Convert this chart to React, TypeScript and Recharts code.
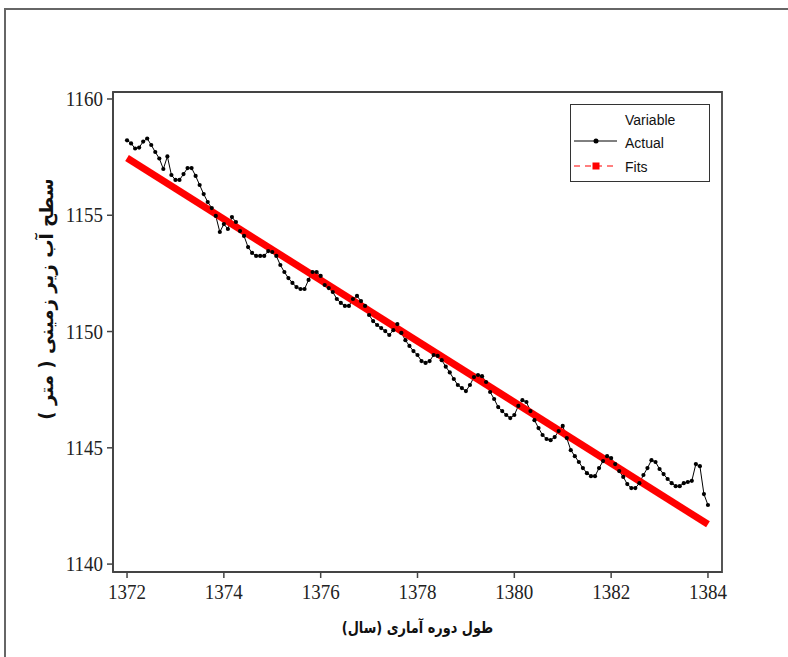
import React from "react";
import { LineChart, Line, XAxis, YAxis, Label, ReferenceArea } from "recharts";

// ---- data ----
const startYear = 1372;
const monthsPerYear = 12;
const actualLevels = [
  1158.22, 1158.09, 1157.87, 1157.91, 1158.17, 1158.3, 1158.02, 1157.72, 1157.44, 1156.99,
  1157.53, 1156.73, 1156.52, 1156.52, 1156.77, 1157.03, 1157.03, 1156.69, 1156.3, 1155.91,
  1155.57, 1155.31, 1154.97, 1154.28, 1154.62, 1154.41, 1154.92, 1154.71, 1154.32, 1154.11,
  1153.63, 1153.38, 1153.25, 1153.25, 1153.25, 1153.46, 1153.42, 1153.25, 1152.86, 1152.56,
  1152.3, 1152.09, 1151.91, 1151.83, 1151.83, 1152.22, 1152.56, 1152.56, 1152.39, 1152.0,
  1151.87, 1151.7, 1151.4, 1151.23, 1151.1, 1151.1, 1151.4, 1151.53, 1151.31, 1151.1,
  1150.71, 1150.45, 1150.28, 1150.15, 1150.02, 1149.85, 1150.06, 1150.32, 1149.94, 1149.63,
  1149.38, 1149.16, 1148.99, 1148.73, 1148.65, 1148.73, 1148.99, 1148.95, 1148.77, 1148.49,
  1148.24, 1147.96, 1147.7, 1147.57, 1147.44, 1147.7, 1148.04, 1148.13, 1148.08, 1147.83,
  1147.4, 1147.1, 1146.75, 1146.58, 1146.41, 1146.28, 1146.41, 1146.8, 1147.05, 1146.97,
  1146.58, 1146.19, 1145.85, 1145.55, 1145.38, 1145.33, 1145.46, 1145.72, 1145.94, 1145.42,
  1144.9, 1144.64, 1144.39, 1144.13, 1143.91, 1143.78, 1143.78, 1144.13, 1144.43, 1144.64,
  1144.56, 1144.3, 1144.0, 1143.75, 1143.44, 1143.27, 1143.27, 1143.48, 1143.83, 1144.13,
  1144.47, 1144.39, 1144.09, 1143.87, 1143.66, 1143.48, 1143.35, 1143.35, 1143.48, 1143.53,
  1143.58, 1144.3, 1144.21, 1143.01, 1142.54,
];
const fitYears = [1372, 1384];
const fitLevels = [1157.46, 1141.71];
const xTicks = [1372, 1374, 1376, 1378, 1380, 1382, 1384];
const yTicks = [1140, 1145, 1150, 1155, 1160];
const legendTitle = "Variable";
const seriesNames = ["Actual", "Fits"];
const xTitle = "طول دوره آماری (سال)";
const yTitle = "سطح آب زیر زمینی ( متر )";

const actualData = actualLevels.map((v, i) => ({ year: startYear + i / monthsPerYear, value: v }));
const fitData = fitYears.map((y, i) => ({ year: y, value: fitLevels[i] }));

const xDomain = [1371.71, 1384.29];
const yDomain = [1139.66, 1160.3];
const axisColor = "#444";
const serifStyle = { fontFamily: "Liberation Serif, Times New Roman, DejaVu Serif, serif", fontSize: 19 };

const XTick = (props: any) => {
  const { x, y, payload } = props;
  return (
    <text
      x={0}
      y={0}
      transform={`translate(${x}, ${y + 15}) scale(1, 1.1)`}
      textAnchor="middle"
      style={serifStyle}
      fill="#222"
    >
      {payload.value}
    </text>
  );
};

const YTick = (props: any) => {
  const { x, y, payload } = props;
  return (
    <text
      x={0}
      y={0}
      transform={`translate(${x}, ${y + 7}) scale(1, 1.1)`}
      textAnchor="end"
      style={serifStyle}
      fill="#222"
    >
      {payload.value}
    </text>
  );
};

function LegendBox() {
  return (
    <div
      style={{
        position: "absolute",
        left: 570,
        top: 104,
        width: 138,
        height: 76,
        border: "1.5px solid #333",
        background: "#fff",
        fontFamily: "'Liberation Sans', Arial, sans-serif",
        fontSize: 14,
        color: "#111",
      }}
    >
      <div style={{ position: "absolute", left: 54, top: 7 }}>{legendTitle}</div>
      <svg style={{ position: "absolute", left: 3, top: 31 }} width={44} height={10}>
        <line x1={0} y1={5} x2={43} y2={5} stroke="#000" strokeWidth={1} />
        <circle cx={22} cy={5} r={2.5} fill="#000" />
      </svg>
      <div style={{ position: "absolute", left: 54, top: 30 }}>{seriesNames[0]}</div>
      <svg style={{ position: "absolute", left: 3, top: 56 }} width={44} height={10}>
        <line x1={0} y1={5} x2={43} y2={5} stroke="#ff0000" strokeWidth={1.2} strokeDasharray="6 5" />
        <rect x={18.5} y={1.5} width={7} height={7} fill="#ff0000" />
      </svg>
      <div style={{ position: "absolute", left: 54, top: 54 }}>{seriesNames[1]}</div>
    </div>
  );
}

export default function App() {
  return (
    <div
      style={{
        position: "absolute",
        left: 0,
        top: 0,
        width: 788,
        height: 657,
        overflow: "hidden",
        background: "#fff",
      }}
    >
      <div
        style={{
          position: "absolute",
          left: 4,
          top: 8,
          width: 800,
          height: 700,
          borderTop: "2px solid #666",
          borderLeft: "2px solid #666",
          boxSizing: "border-box",
        }}
      />
      <div style={{ position: "absolute", left: 0, top: 0 }}>
        <LineChart width={788} height={657} margin={{ top: 92, right: 66, bottom: 45, left: 53 }}>
          <XAxis
            type="number"
            dataKey="year"
            domain={xDomain}
            ticks={xTicks}
            allowDataOverflow
            height={40}
            stroke={axisColor}
            strokeWidth={1.8}
            tickSize={6}
            tickMargin={6}
            tick={<XTick />}
            tickLine={{ stroke: axisColor, strokeWidth: 1.5 }}
          >
            <Label
              content={(props: any) => {
                const vb = props.viewBox || {};
                const cx = vb.x + vb.width / 2;
                const cy = 633;
                return (
                  <text
                    x={0}
                    y={0}
                    transform={`translate(${cx}, ${cy}) scale(0.86, 1.08)`}
                    textAnchor="middle"
                    style={{ direction: "rtl", unicodeBidi: "embed" }}
                    fontFamily="'DejaVu Sans', sans-serif"
                    fontWeight="bold"
                    fontSize={15}
                    fill="#111"
                  >
                    {xTitle}
                  </text>
                );
              }}
            />
          </XAxis>
          <YAxis
            type="number"
            domain={yDomain}
            ticks={yTicks}
            allowDataOverflow
            width={60}
            stroke={axisColor}
            strokeWidth={1.8}
            tickSize={6}
            tickMargin={4}
            tick={<YTick />}
            tickLine={{ stroke: axisColor, strokeWidth: 1.5 }}
          >
            <Label
              content={() => {
                const cy = 299;
                const cx = 53;
                return (
                  <text
                    x={0}
                    y={0}
                    transform={`translate(${cx}, ${cy}) rotate(-90) scale(1.07, 1.1)`}
                    textAnchor="middle"
                    style={{ direction: "rtl", unicodeBidi: "embed" }}
                    fontFamily="'DejaVu Sans', sans-serif"
                    fontWeight="bold"
                    fontSize={17}
                    fill="#111"
                  >
                    {yTitle}
                  </text>
                );
              }}
            />
          </YAxis>
          <ReferenceArea
            x1={xDomain[0]}
            x2={xDomain[1]}
            y1={yDomain[0]}
            y2={yDomain[1]}
            fill="none"
            fillOpacity={0}
            stroke={axisColor}
            strokeWidth={1.8}
            ifOverflow="extendDomain"
          />
          <Line
            data={actualData}
            dataKey="value"
            type="linear"
            stroke="#000"
            strokeWidth={1}
            dot={{ r: 2.1, fill: "#000", stroke: "none" }}
            isAnimationActive={false}
          />
          <Line
            data={fitData}
            dataKey="value"
            type="linear"
            stroke="#ff0000"
            strokeWidth={7}
            dot={false}
            isAnimationActive={false}
          />
        </LineChart>
      </div>
      <LegendBox />
    </div>
  );
}
